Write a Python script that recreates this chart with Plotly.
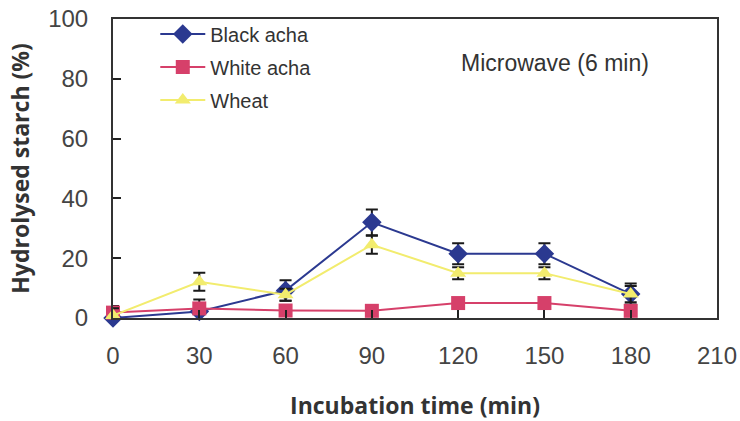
import plotly.graph_objects as go

time = [0, 30, 60, 90, 120, 150, 180]
black_acha = [0.0, 2.2, 9.2, 32.0, 21.5, 21.5, 8.0]
black_err = [4.0, 4.0, 3.4, 4.3, 3.5, 3.5, 3.5]
white_acha = [1.8, 3.2, 2.5, 2.4, 5.0, 5.0, 2.4]
white_err = [0.5, 0.5, 0.5, 0.5, 0.5, 0.5, 0.5]
wheat = [0.8, 12.1, 7.8, 24.5, 15.0, 15.0, 8.0]
wheat_err = [2.5, 3.0, 2.0, 3.0, 2.0, 2.0, 2.7]

series = [
    ("Black acha", black_acha, black_err, "#2B3990", "diamond", 15),
    ("White acha", white_acha, white_err, "#D6406A", "square", 14),
    ("Wheat", wheat, wheat_err, "#F2EC6E", "triangle-up", 14),
]

fig = go.Figure()
for name, y, err, color, sym, size in series:
    fig.add_trace(go.Scatter(
        x=time, y=y, name=name, legendgroup=name, mode="lines+markers",
        line=dict(color=color, width=2),
        marker=dict(symbol=sym, size=size, color=color),
        cliponaxis=False,
        error_y=dict(type="data", array=err, visible=True, color="#1a1a1a",
                     thickness=2, width=6),
    ))

fig.add_annotation(x=0.732, y=0.853, xref="paper", yref="paper",
                   xanchor="center", yanchor="middle",
                   text="Microwave (6 min)", showarrow=False,
                   font=dict(family="Liberation Sans, Arial", size=23, color="#333"))

fig.update_layout(
    width=740, height=421,
    margin=dict(l=113, r=23, t=19, b=103),
    paper_bgcolor="white", plot_bgcolor="white",
    font=dict(family="Liberation Sans, Arial", color="#444"),
    showlegend=True,
    legend=dict(x=0.07, y=1.015, xanchor="left", yanchor="top",
                bgcolor="rgba(0,0,0,0)", font=dict(size=20, color="#333"),
                itemwidth=45, tracegroupgap=4),
    xaxis=dict(range=[0, 210], tickvals=[0, 30, 60, 90, 120, 150, 180, 210],
               ticks="inside", ticklen=8, tickwidth=2, tickcolor="#222",
               showline=True, linecolor="#333", linewidth=2, mirror=True,
               showgrid=False, zeroline=False, automargin=False,
               tickfont=dict(size=24, color="#444"), ticklabelstandoff=15,
               title=dict(text="Incubation time (min)", standoff=34,
                          font=dict(family="Open Sans", size=23, color="#333", weight="bold"))),
    yaxis=dict(range=[0, 100], tickvals=[0, 20, 40, 60, 80, 100],
               ticks="inside", ticklen=8, tickwidth=2, tickcolor="#222",
               showline=True, linecolor="#333", linewidth=2, mirror=True,
               showgrid=False, zeroline=False, automargin=False,
               tickfont=dict(size=24, color="#444"), ticklabelstandoff=18,
               title=dict(text="Hydrolysed starch (%)", standoff=12,
                          font=dict(family="Open Sans", size=23, color="#333", weight="bold"))),
)

fig.write_html("out.html")
